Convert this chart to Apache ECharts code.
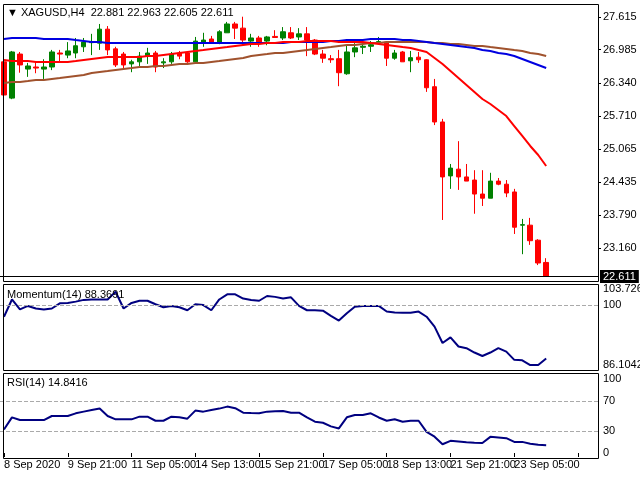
<!DOCTYPE html>
<html lang="en">
<head>
<meta charset="utf-8">
<title>XAGUSD H4</title>
<style>
  * { margin: 0; padding: 0; }
  #chart-container { width: 640px; height: 480px; background: #fff; }
</style>
</head>
<body>
<div id="chart-container"></div>
<script src="https://cdn.jsdelivr.net/npm/echarts@6/dist/echarts.min.js"></script>
<script>
// candles: [open, close, low, high]
var candles = [
  [26.75, 26.11, 25.86, 26.82], [26.05, 26.94, 26.03, 26.96], [26.90, 26.69, 26.54, 26.94], [26.61, 26.67, 26.46, 26.73],
  [26.65, 26.63, 26.53, 26.75], [26.61, 26.65, 26.42, 26.80], [26.65, 26.94, 26.59, 26.98], [26.92, 26.90, 26.73, 26.98],
  [26.88, 26.96, 26.82, 27.13], [26.92, 27.06, 26.82, 27.21], [27.04, 27.13, 26.94, 27.21], [27.12, 27.14, 26.88, 27.29],
  [27.11, 27.38, 26.98, 27.48], [27.38, 26.98, 26.88, 27.44], [27.00, 26.69, 26.65, 27.04], [26.90, 26.69, 26.63, 26.94],
  [26.71, 26.75, 26.55, 26.79], [26.75, 26.86, 26.67, 26.94], [26.86, 26.92, 26.71, 27.02], [26.92, 26.65, 26.55, 26.96],
  [26.73, 26.75, 26.63, 26.82], [26.75, 26.90, 26.71, 26.94], [26.92, 26.86, 26.80, 26.96], [26.92, 26.75, 26.73, 26.94],
  [26.75, 27.15, 26.73, 27.23], [27.13, 27.17, 27.04, 27.31], [27.19, 27.11, 27.11, 27.25], [27.13, 27.33, 27.09, 27.36],
  [27.31, 27.48, 27.31, 27.52], [27.48, 27.40, 27.19, 27.52], [27.40, 27.17, 27.06, 27.62], [27.15, 27.21, 27.04, 27.29],
  [27.21, 27.13, 27.04, 27.25], [27.15, 27.23, 27.07, 27.25], [27.24, 27.22, 27.21, 27.36], [27.21, 27.33, 27.17, 27.42],
  [27.31, 27.21, 27.19, 27.42], [27.23, 27.29, 27.17, 27.40], [27.29, 27.17, 26.86, 27.42], [27.17, 26.90, 26.88, 27.19],
  [26.90, 26.82, 26.73, 26.98], [26.81, 26.79, 26.73, 26.88], [26.81, 26.54, 26.28, 26.98], [26.52, 26.94, 26.50, 27.07],
  [26.94, 27.02, 26.84, 27.11], [27.03, 27.05, 26.90, 27.13], [27.05, 27.08, 26.94, 27.15], [27.12, 27.14, 27.09, 27.23],
  [27.13, 26.82, 26.67, 27.15], [26.82, 26.92, 26.79, 26.98], [26.94, 26.75, 26.75, 26.96], [26.77, 26.83, 26.55, 26.96],
  [26.84, 26.79, 26.73, 26.94], [26.79, 26.25, 26.17, 26.80], [26.27, 25.59, 25.53, 26.42], [25.59, 24.53, 23.70, 25.65],
  [24.55, 24.70, 24.30, 24.78], [24.68, 24.53, 24.28, 25.22], [24.53, 24.45, 24.45, 24.78], [24.47, 24.20, 23.82, 24.66],
  [24.20, 24.12, 23.97, 24.66], [24.12, 24.45, 24.12, 24.61], [24.45, 24.39, 24.37, 24.51], [24.39, 24.22, 24.14, 24.47],
  [24.24, 23.56, 23.43, 24.30], [23.60, 23.61, 23.04, 23.72], [23.60, 23.30, 23.22, 23.74], [23.31, 22.87, 22.83, 23.33],
  [22.881, 22.611, 22.605, 22.963]
];

var maRed = [
  26.786, 26.766, 26.766, 26.766, 26.747, 26.747, 26.747, 26.747, 26.747, 26.766, 26.786,
  26.805, 26.824, 26.843, 26.843, 26.843, 26.843, 26.843, 26.863, 26.863,
  26.882, 26.901, 26.921, 26.940, 26.959, 26.978, 26.998, 27.017, 27.036, 27.056,
  27.075, 27.094, 27.094, 27.113, 27.113, 27.133, 27.133, 27.133,
  27.152, 27.152, 27.152, 27.152, 27.133, 27.133, 27.133, 27.133, 27.113,
  27.094, 27.075, 27.056, 27.036, 27.017, 26.978, 26.940,
  26.824, 26.708, 26.573, 26.438, 26.303, 26.168, 26.033, 25.937, 25.821, 25.705, 25.512, 25.320, 25.127, 24.953, 24.741
];

var maBlue = [
  27.191, 27.210, 27.210, 27.210, 27.210, 27.191, 27.191, 27.191, 27.191, 27.171,
  27.152, 27.133, 27.133, 27.113, 27.113, 27.113, 27.113,
  27.113, 27.113, 27.113, 27.113, 27.113, 27.113, 27.113, 27.113, 27.113, 27.113,
  27.113, 27.113, 27.113, 27.113, 27.113, 27.113, 27.113, 27.113, 27.113,
  27.133, 27.133, 27.133, 27.133, 27.133,
  27.152, 27.152, 27.171, 27.171, 27.171,
  27.191, 27.191, 27.191, 27.191, 27.171,
  27.171, 27.152, 27.133,
  27.113, 27.094, 27.075, 27.056, 27.036, 27.017, 26.978, 26.959, 26.921, 26.901, 26.863, 26.805, 26.747, 26.689, 26.631
];

var maBrown = [
  26.342, 26.361, 26.361, 26.380, 26.400, 26.400, 26.419, 26.438, 26.458, 26.477,
  26.496, 26.535, 26.554, 26.573, 26.593, 26.612, 26.631, 26.651, 26.651, 26.670,
  26.670, 26.689, 26.708, 26.708, 26.728, 26.728, 26.747, 26.766, 26.786, 26.805,
  26.824, 26.863, 26.882, 26.901, 26.921, 26.921, 26.940, 26.959, 26.978, 26.998,
  27.017, 27.036, 27.056, 27.075, 27.075, 27.094, 27.113, 27.113, 27.133, 27.133,
  27.133, 27.133, 27.133, 27.133, 27.113, 27.113, 27.094, 27.094, 27.075, 27.056,
  27.056, 27.036, 27.017, 26.998, 26.978, 26.959, 26.921, 26.901, 26.863
];

var momentum = [
  97.3, 101.3, 99.0, 99.8, 99.2, 99.0, 99.2, 100.4, 100.5, 100.8,
  101.2, 101.3, 101.3, 101.3, 103.1, 99.2, 100.5, 101.0, 101.0, 100.2,
  99.5, 99.8, 99.5, 98.8, 100.2, 100.0, 98.8, 101.3, 102.5, 102.5,
  101.5, 101.2, 101.0, 102.1, 101.9, 101.5, 101.8, 99.8, 98.8, 98.8,
  98.7, 97.5, 96.4, 98.1, 99.6, 99.8, 99.8, 99.8, 98.5, 98.3,
  98.2, 98.2, 98.5, 97.3, 95.0, 91.2, 92.5, 90.4, 90.0, 89.0,
  88.2, 89.0, 90.0, 89.2, 87.3, 87.2, 86.1, 86.1, 87.6
];

var rsi = [
  31.8, 48.2, 44.5, 44.5, 44.5, 44.5, 50.0, 50.0, 50.0, 53.6,
  55.9, 58.0, 60.0, 50.0, 45.5, 45.5, 45.5, 49.1, 49.1, 43.6,
  43.6, 49.1, 48.2, 46.4, 57.3, 55.9, 58.2, 60.0, 62.7, 60.5,
  54.5, 54.0, 53.6, 55.9, 56.4, 56.8, 54.5, 54.5, 48.0, 42.3,
  40.9, 36.0, 33.2, 48.2, 51.4, 51.4, 53.6, 48.0, 43.6, 45.5,
  42.3, 43.5, 43.6, 28.6, 22.0, 11.8, 16.4, 15.5, 14.5, 14.0,
  13.6, 21.8, 20.9, 20.0, 15.0, 15.0, 12.5, 11.0, 10.5
];

var priceTicks = [27.615, 26.985, 26.340, 25.710, 25.065, 24.435, 23.790, 23.160];
var momentumTicks = [86.1042, 100, 103.7265];
var rsiTicks = [0, 30, 70, 100];
var timeLabels = ['8 Sep 2020', '9 Sep 21:00', '11 Sep 05:00', '14 Sep 13:00', '15 Sep 21:00',
  '17 Sep 05:00', '18 Sep 13:00', '21 Sep 21:00', '23 Sep 05:00'];

var slots = 75;
var categories = [];
for (var i = 0; i < slots; i++) categories.push(String(i));

var font = 'Liberation Sans';
var dom = document.getElementById('chart-container');
var myChart = echarts.init(dom, null, { renderer: 'canvas' });

function xAx(gridIndex, showLabels) {
  return {
    type: 'category', gridIndex: gridIndex, data: categories, boundaryGap: true,
    axisLine: { show: false },
    axisTick: { show: showLabels, interval: 7, alignWithLabel: true, length: 4, lineStyle: { color: '#000' } },
    axisLabel: {
      show: showLabels, interval: 7, align: 'left', color: '#000', fontFamily: font, fontSize: 11, margin: 6,
      formatter: function (v, idx) { return timeLabels[idx / 8] || ''; }
    },
    splitLine: { show: false }
  };
}

function yLabel(ticks, fmt) {
  return {
    customValues: ticks, color: '#000', fontFamily: font, fontSize: 11, margin: 5,
    align: 'left', hideOverlap: false, showMinLabel: true, showMaxLabel: true,
    formatter: fmt
  };
}

var option = {
  backgroundColor: '#fff',
  animation: false,
  grid: [
    { left: 0, top: 5, width: 598, height: 276, outerBoundsMode: 'none' },
    { left: 0, top: 289, width: 598, height: 76, outerBoundsMode: 'none' },
    { left: 0, top: 379, width: 598, height: 74, outerBoundsMode: 'none' }
  ],
  xAxis: [xAx(0, false), xAx(1, false), xAx(2, true)],
  yAxis: [
    {
      type: 'value', gridIndex: 0, position: 'right', min: 22.523, max: 27.846,
      axisLine: { show: false }, splitLine: { show: false },
      axisTick: { show: true, customValues: priceTicks, length: 3, lineStyle: { color: '#000' } },
      axisLabel: yLabel(priceTicks, function (v) { return v.toFixed(3); })
    },
    {
      type: 'value', gridIndex: 1, position: 'right', min: 86.1042, max: 103.7265,
      axisLine: { show: false }, splitLine: { show: false }, axisTick: { show: false },
      axisLabel: yLabel(momentumTicks, function (v) { return v === 100 ? '100' : v.toFixed(4); })
    },
    {
      type: 'value', gridIndex: 2, position: 'right', min: 0, max: 100,
      axisLine: { show: false }, splitLine: { show: false }, axisTick: { show: false },
      axisLabel: yLabel(rsiTicks, function (v) { return String(v); })
    }
  ],
  graphic: [
    { type: 'rect', shape: { x: 3.5, y: 4.5, width: 595, height: 277 }, style: { fill: null, stroke: '#000', lineWidth: 1 }, z: 10 },
    { type: 'rect', shape: { x: 3.5, y: 284.5, width: 595, height: 86 }, style: { fill: null, stroke: '#000', lineWidth: 1 }, z: 10 },
    { type: 'rect', shape: { x: 3.5, y: 373.5, width: 595, height: 85 }, style: { fill: null, stroke: '#000', lineWidth: 1 }, z: 10 },
    { type: 'text', left: 7, top: 7, style: { text: '\u25BC XAGUSD,H4  22.881 22.963 22.605 22.611', fontFamily: font, fontSize: 11, fill: '#000' }, z: 11 },
    { type: 'text', left: 7, top: 289, style: { text: 'Momentum(14) 88.3691', fontFamily: font, fontSize: 11, fill: '#000' }, z: 11 },
    { type: 'text', left: 7, top: 377, style: { text: 'RSI(14) 14.8416', fontFamily: font, fontSize: 11, fill: '#000' }, z: 11 }
  ],
  series: [
    {
      type: 'candlestick', xAxisIndex: 0, yAxisIndex: 0, data: candles, barWidth: 5,
      itemStyle: { color: '#008000', color0: '#ff0000', borderColor: '#008000', borderColor0: '#ff0000', borderWidth: 1 },
      markLine: {
        silent: true, symbol: 'none',
        lineStyle: { color: '#000', type: 'solid', width: 1 },
        label: {
          position: 'end', formatter: '22.611', color: '#fff', backgroundColor: '#000',
          fontFamily: font, fontSize: 11, padding: [1, 3, 1, 3], distance: 2
        },
        data: [{ yAxis: 22.611 }]
      }
    },
    { type: 'line', xAxisIndex: 0, yAxisIndex: 0, data: maBrown, showSymbol: false, lineStyle: { color: '#a0522d', width: 2 } },
    { type: 'line', xAxisIndex: 0, yAxisIndex: 0, data: maBlue, showSymbol: false, lineStyle: { color: '#0000e0', width: 2 } },
    { type: 'line', xAxisIndex: 0, yAxisIndex: 0, data: maRed, showSymbol: false, lineStyle: { color: '#ff0000', width: 2 } },
    {
      type: 'line', xAxisIndex: 1, yAxisIndex: 1, data: momentum, showSymbol: false,
      lineStyle: { color: '#000080', width: 2 },
      markLine: {
        silent: true, symbol: 'none', label: { show: false },
        lineStyle: { color: '#aaa', type: 'dashed', width: 1 },
        data: [{ yAxis: 100 }]
      }
    },
    {
      type: 'line', xAxisIndex: 2, yAxisIndex: 2, data: rsi, showSymbol: false,
      lineStyle: { color: '#000080', width: 2 },
      markLine: {
        silent: true, symbol: 'none', label: { show: false },
        lineStyle: { color: '#aaa', type: 'dashed', width: 1 },
        data: [{ yAxis: 30 }, { yAxis: 70 }]
      }
    }
  ]
};

myChart.setOption(option);
window.addEventListener('resize', myChart.resize);
</script>
</body>
</html>
